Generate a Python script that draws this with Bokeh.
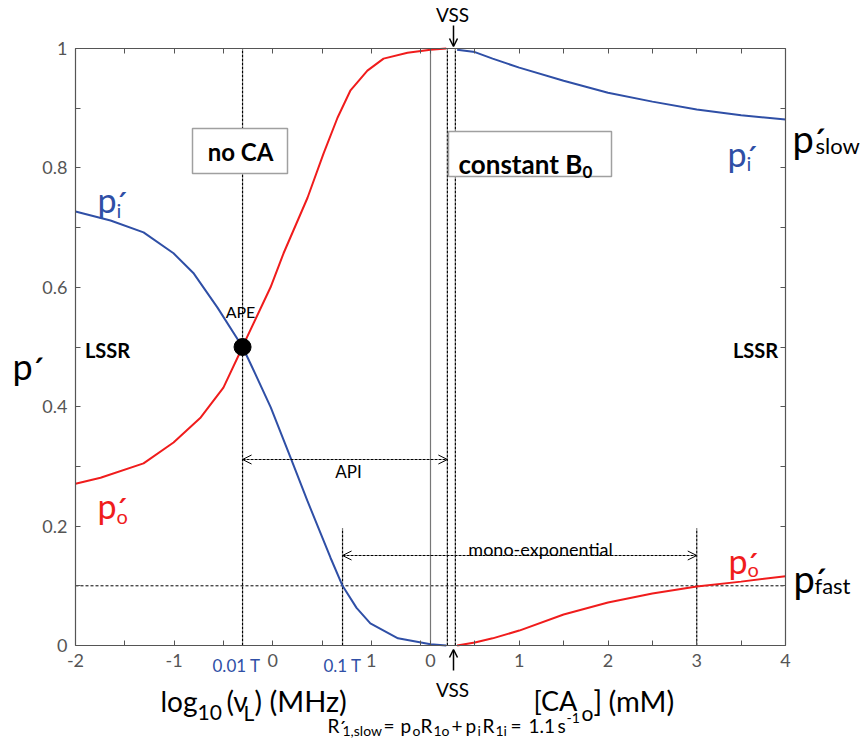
from bokeh.plotting import figure
from bokeh.models import (Range1d, LinearAxis, FixedTicker, Label, Arrow, OpenHead,
                          BoxAnnotation)
from bokeh.embed import file_html
from bokeh.resources import INLINE

# ---------------- data ----------------
# left panel: x = log10(nu_L / MHz), "no CA"
left_log_pi = [-2.0, -1.645, -1.31, -1.006, -0.80, -0.56, -0.306, -0.225, -0.02, 0.18,
               0.35, 0.586, 0.708, 0.85, 0.99, 1.27, 1.6, 1.76]
left_pi = [0.727, 0.712, 0.692, 0.657, 0.623, 0.566, 0.5, 0.472, 0.399, 0.315,
           0.243, 0.147, 0.10, 0.063, 0.037, 0.012, 0.002, 0.0]
left_log_po = [-2.0, -1.746, -1.31, -1.006, -0.73, -0.5, -0.306, -0.276, -0.022, 0.11,
               0.353, 0.515, 0.657, 0.789, 0.96, 1.124, 1.367, 1.6, 1.76]
left_po = [0.271, 0.281, 0.305, 0.340, 0.382, 0.432, 0.5, 0.511, 0.600, 0.657,
           0.750, 0.824, 0.884, 0.930, 0.963, 0.983, 0.993, 0.998, 1.0]

# right panel: x = [CA_o] (mM), "constant B0"
right_ca = [0.3, 0.5, 0.7, 1.0, 1.5, 2.0, 2.5, 3.0, 3.5, 4.0]
right_pi = [0.998, 0.994, 0.983, 0.968, 0.946, 0.926, 0.911, 0.898, 0.888, 0.881]
right_po = [0.0, 0.005, 0.012, 0.025, 0.052, 0.072, 0.087, 0.099, 0.107, 0.116]

ape_log = -0.306          # 0.01 T
t01_log = 0.708           # 0.1 T
vss_ca = [0.19, 0.28]
mono_ca = 3.0
p_fast_level = 0.1
ape_p = 0.5

log_major = [-2.0, -1.0, 0.0, 1.0]
log_minor = [-1.5, -0.5, 0.5, 1.5]
log_labels = ["-2", "-1", "0", "1"]
ca_major = [0.0, 1.0, 2.0, 3.0, 4.0]
ca_minor = [0.5, 1.5, 2.5, 3.5]
ca_labels = ["0", "1", "2", "3", "4"]
y_major = [0.0, 0.2, 0.4, 0.6, 0.8, 1.0]
y_minor = [0.1, 0.3, 0.5, 0.7, 0.9]
y_labels = ["0", "0.2", "0.4", "0.6", "0.8", "1"]

# composite x coordinate: the CA panel joins the log panel at X0
X0 = 1.6
CA_SCALE = 0.9
def ca2x(c):
    return round(X0 + CA_SCALE * c, 6)

XL, XR = -2.0, ca2x(4.0)

# ---------------- geometry (page pixels of the plot box) ----------------
W, H = 860, 738
BOX_L, BOX_R, BOX_T, BOX_B = 75, 785, 48, 645
kx = (XR - XL) / (BOX_R - BOX_L)
ky = 1.0 / (BOX_B - BOX_T)
def px2x(px):
    return XL + (px - BOX_L) * kx
def py2y(py):
    return (BOX_B - py) * ky

p = figure(width=W, height=H, output_backend="svg", toolbar_location=None,
           x_range=Range1d(px2x(0), px2x(W)), y_range=Range1d(py2y(H), py2y(0)),
           min_border_left=0, min_border_right=0, min_border_top=0, min_border_bottom=0,
           background_fill_color="white", border_fill_color="white", title=None)
p.xgrid.visible = False
p.ygrid.visible = False
p.outline_line_color = None

GRAY = "#555555"
FONT = "Lato"

def style_axis(ax):
    ax.major_tick_in = 5
    ax.major_tick_out = 0
    ax.minor_tick_in = 5
    ax.minor_tick_out = 0
    ax.axis_line_color = GRAY
    ax.axis_line_width = 1.2
    ax.major_tick_line_color = GRAY
    ax.minor_tick_line_color = GRAY
    ax.major_label_text_color = GRAY
    ax.major_label_text_font = FONT
    ax.major_label_text_font_size = "18px"
    ax.major_label_standoff = 8

x_major = [round(v, 6) for v in log_major] + [ca2x(c) for c in ca_major]
x_minor = [round(v, 6) for v in log_minor] + [ca2x(c) for c in ca_minor]
x_over = {round(v, 6): t for v, t in zip(log_major, log_labels)}
x_over.update({ca2x(c): t for c, t in zip(ca_major, ca_labels)})
y_over = {round(v, 6): t for v, t in zip(y_major, y_labels)}

bx = p.xaxis[0]
bx.ticker = FixedTicker(ticks=x_major, minor_ticks=x_minor)
bx.major_label_overrides = x_over
bx.fixed_location = 0.0
bx.bounds = (XL, XR)
style_axis(bx)

ly = p.yaxis[0]
ly.ticker = FixedTicker(ticks=y_major, minor_ticks=y_minor)
ly.major_label_overrides = y_over
ly.fixed_location = XL
ly.bounds = (0.0, 1.0)
style_axis(ly)

top = LinearAxis(ticker=FixedTicker(ticks=[], minor_ticks=x_major + x_minor),
                 fixed_location=1.0, bounds=(XL, XR))
style_axis(top)
p.add_layout(top, "above")
right = LinearAxis(ticker=FixedTicker(ticks=[], minor_ticks=y_major + y_minor),
                   fixed_location=XR, bounds=(0.0, 1.0))
style_axis(right)
p.add_layout(right, "right")

BLUE = "#2f4fa6"
RED = "#f01c1c"

# reference lines
p.segment(x0=[XL], y0=[p_fast_level], x1=[XR], y1=[p_fast_level],
          line_color="black", line_dash="3 2", line_width=1)
p.segment(x0=[X0], y0=[0], x1=[X0], y1=[1], line_color="#777777", line_width=1.2)
full_x = [ape_log] + [ca2x(c) for c in vss_ca]
p.segment(x0=full_x, y0=[0] * 3, x1=full_x, y1=[1] * 3,
          line_color="black", line_dash="3 1", line_width=1.2)
short_x = [t01_log, ca2x(mono_ca)]
p.segment(x0=short_x, y0=[0, 0], x1=short_x, y1=[py2y(528)] * 2,
          line_color="black", line_dash="3 1", line_width=1.2)

# curves
p.line(left_log_pi, left_pi, line_color=BLUE, line_width=2)
p.line(left_log_po, left_po, line_color=RED, line_width=2)
rx = [ca2x(c) for c in right_ca]
p.line(rx, right_pi, line_color=BLUE, line_width=2)
p.line(rx, right_po, line_color=RED, line_width=2)
p.scatter([ape_log], [ape_p], size=17, color="black")

# arrows
def dbl_arrow(x0, x1, y):
    p.add_layout(Arrow(x_start=x0, y_start=y, x_end=x1, y_end=y,
                       line_dash="3 1", line_width=1,
                       start=OpenHead(size=9, line_width=1),
                       end=OpenHead(size=9, line_width=1)))
dbl_arrow(ape_log, ca2x(vss_ca[0]), py2y(459))
dbl_arrow(t01_log, ca2x(mono_ca), py2y(555))
xv = px2x(453)
p.add_layout(Arrow(x_start=xv, y_start=py2y(25), x_end=xv, y_end=py2y(46), line_width=1.5,
                   end=OpenHead(size=8, line_width=1.5)))
p.add_layout(Arrow(x_start=xv, y_start=py2y(670), x_end=xv, y_end=py2y(649), line_width=1.5,
                   end=OpenHead(size=8, line_width=1.5)))

# boxes
for l_, r_, t_, b_ in [(192, 287, 128, 173), (448, 611, 131, 176)]:
    p.add_layout(BoxAnnotation(left=px2x(l_), right=px2x(r_), top=py2y(t_), bottom=py2y(b_),
                               fill_color="white", fill_alpha=1, line_color="#a0a0a0",
                               line_width=1.5, line_alpha=1))

def lab(xp, yp, text, size, color="black", bold=False, align="left", baseline="alphabetic"):
    p.add_layout(Label(x=px2x(xp), y=py2y(yp), text=text, text_font=FONT,
                       text_font_size=f"{size}px", text_color=color,
                       text_font_style="bold" if bold else "normal",
                       text_align=align, text_baseline=baseline))

def psym(xl_, yb, size, color, sub=None, sub_x=None, sub_yb=None, sub_size=None):
    lab(xl_, yb, "p", size, color)
    lab(xl_ + 0.5 * size, yb + 0.12 * size, "´", size, color)
    if sub:
        lab(sub_x, sub_yb, sub, sub_size, color)

lab(240, 151, "no CA", 24, bold=True, align="center", baseline="middle")
lab(458, 163, "constant B", 26, bold=True)
lab(582, 171, "0", 17, bold=True)
lab(107, 349, "LSSR", 20, bold=True, align="center", baseline="middle")
lab(755, 349, "LSSR", 20, bold=True, align="center", baseline="middle")
lab(240, 311, "APE", 16, align="center", baseline="middle")
lab(348, 471, "API", 17, align="center", baseline="middle")
lab(540, 548, "mono-exponential", 18, align="center", baseline="middle")
lab(452, 14, "VSS", 19, align="center", baseline="middle")
lab(452, 689, "VSS", 19, align="center", baseline="middle")
lab(236, 665, "0.01 T", 17, color=BLUE, align="center")
lab(342, 665, "0.1 T", 17, color=BLUE, align="center")

psym(12, 365, 36, "black")
psym(97, 199, 34, BLUE, "i", 116, 209, 20)
psym(97, 505, 34, RED, "o", 116, 515, 20)
psym(727, 153, 34, BLUE, "i", 746, 162, 20)
psym(728, 560, 34, RED, "o", 747, 568, 20)
psym(792, 137, 38, "black", "slow", 815, 145, 22)
psym(793, 577, 38, "black", "fast", 814, 585, 22)

# axis titles
AB, SB = 700, 712
lab(160, AB, "log", 28)
lab(197, SB, "10", 21)
lab(226, AB, "(ν", 28)
lab(243, SB, "L", 21)
lab(254, AB, ")", 28)
lab(269, AB, "(MHz)", 29)
lab(533, AB, "[CA", 27)
lab(581, SB, "o", 21)
lab(593, AB, "]", 28)
lab(608, AB, "(mM)", 29)

# formula
FB = 725
for xp, txt, kind in [(327, "R", "m"), (338, "´", "m"), (342, "1,slow", "s"),
                      (383, "=", "m"), (400, "p", "m"), (412, "o", "s"),
                      (420, "R", "m"), (433, "1o", "s"), (451, "+", "m"),
                      (465, "p", "m"), (477, "i", "s"), (482, "R", "m"),
                      (495, "1i", "s"), (510, "=", "m"), (528, "1.1", "m"),
                      (557, "s", "m"), (566, "-1", "u")]:
    if kind == "m":
        lab(xp, FB + (2 if txt == "´" else 0), txt, 19)
    elif kind == "s":
        lab(xp, FB + 5, txt, 14)
    else:
        lab(xp, FB - 8, txt, 14)

open("out.html", "w").write(file_html(p, INLINE))
